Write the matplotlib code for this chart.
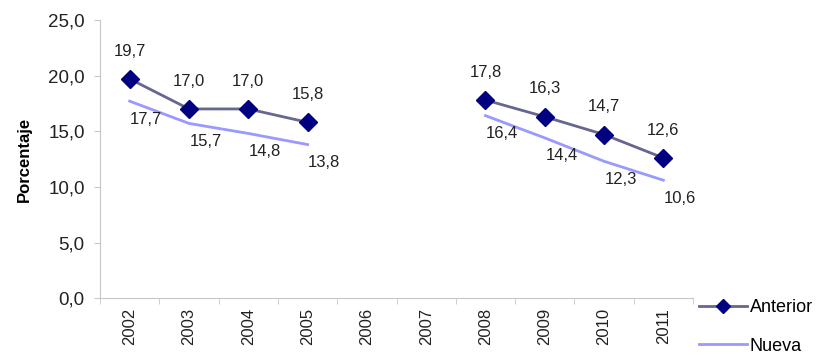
import numpy as np
import matplotlib.pyplot as plt
from matplotlib.ticker import FixedLocator, FuncFormatter

years = ['2002', '2003', '2004', '2005', '2006', '2007', '2008', '2009', '2010', '2011']
anterior = [19.7, 17.0, 17.0, 15.8, np.nan, np.nan, 17.8, 16.3, 14.7, 12.6]
nueva = [17.7, 15.7, 14.8, 13.8, np.nan, np.nan, 16.4, 14.4, 12.3, 10.6]

plt.rcParams['font.family'] = ['Liberation Sans', 'DejaVu Sans']

fig = plt.figure(figsize=(8.24, 3.55), dpi=100)
ax = fig.add_axes([0.1214, 0.16, 0.7196, 0.784])

x = np.arange(len(years))
ax.plot(x, anterior, color='#66668f', lw=2, marker='D', ms=9,
        mfc='#000080', mec='#000080', label='Anterior')
ax.plot(x, nueva, color='#9999ff', lw=2, label='Nueva')


def fmt(v):
    return '{:.1f}'.format(v).replace('.', ',')


# etiquetas de datos
for xi, a, n in zip(x, anterior, nueva):
    if not np.isnan(a):
        ax.annotate(fmt(a), (xi, a), xytext=(0, 20), textcoords='offset points',
                    ha='center', va='center', fontsize=12, color='#222222')
    if not np.isnan(n):
        ax.annotate(fmt(n), (xi, n), xytext=(12, -13), textcoords='offset points',
                    ha='center', va='center', fontsize=12, color='#222222')

ax.set_xlim(-0.5, len(years) - 0.5)
ax.set_ylim(0, 25)
ax.set_yticks(np.arange(0, 26, 5))
ax.yaxis.set_major_formatter(FuncFormatter(lambda v, p: fmt(v)))
ax.set_xticks(x)
ax.set_xticklabels(years, rotation=90)
ax.xaxis.set_minor_locator(FixedLocator(np.arange(-0.5, len(years), 1)))
ax.tick_params(axis='x', which='major', length=0, pad=7, labelsize=12, colors='#222222')
ax.tick_params(axis='x', which='minor', length=4, color='#c8c8c8')
ax.tick_params(axis='y', length=4, color='#c8c8c8', labelsize=13.5, labelcolor='#222222', pad=7)

for s in ['top', 'right']:
    ax.spines[s].set_visible(False)
for s in ['left', 'bottom']:
    ax.spines[s].set_color('#c8c8c8')

ax.set_ylabel('Porcentaje', fontsize=12, fontweight='bold', labelpad=12)

fig.legend(loc='lower left', bbox_to_anchor=(0.828, -0.045), frameon=False,
           fontsize=13, handlelength=2.7, labelspacing=1.2, handletextpad=0.15,
           markerscale=0.75)

fig.savefig('out.png', dpi=100)
